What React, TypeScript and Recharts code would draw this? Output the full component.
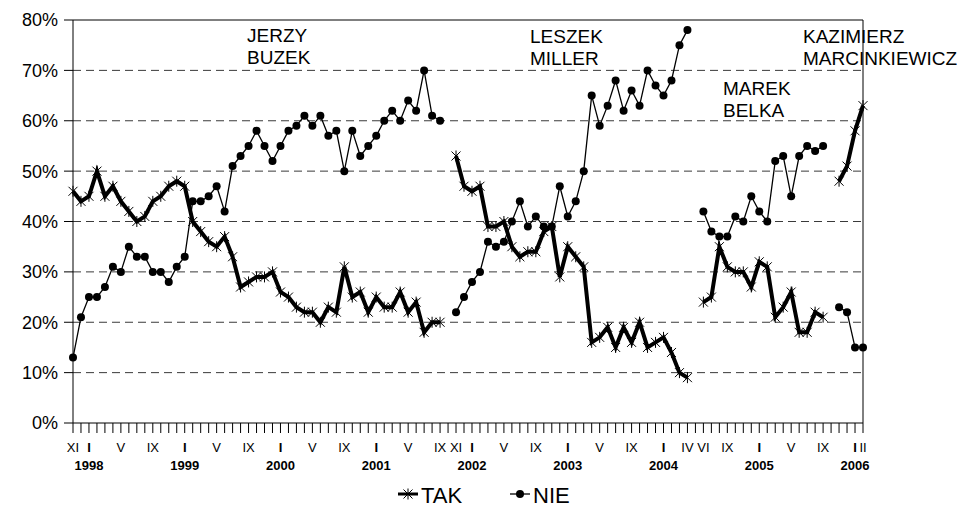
import { LineChart, Line, XAxis, YAxis, ReferenceLine, Legend } from 'recharts';

// miesiące od XI 1997 do II 2006
const START_YEAR = 1997;
const START_MONTH = 11;
const MONTH_COUNT = 100;

const months: string[] = [];
for (let i = 0; i < MONTH_COUNT; i++) {
  const m = START_MONTH - 1 + i;
  months.push(`${START_YEAR + Math.floor(m / 12)}-${(m % 12) + 1}`);
}

// (%), null = przerwa między rządami
const tak: (number | null)[] = [
  46, 44, 45, 50, 45, 47, 44, 42, 40, 41, 44, 45, 47, 48, 47, 40, 38, 36, 35, 37,
  33, 27, 28, 29, 29, 30, 26, 25, 23, 22, 22, 20, 23, 22, 31, 25, 26, 22, 25, 23,
  23, 26, 22, 24, 18, 20, 20,
  null,
  53, 47, 46, 47, 39, 39, 40, 35, 33, 34, 34, 38, 39, 29, 35, 33, 31, 16, 17, 19,
  15, 19, 16, 20, 15, 16, 17, 14, 10, 9,
  null,
  24, 25, 35, 31, 30, 30, 27, 32, 31, 21, 23, 26, 18, 18, 22, 21,
  null,
  48, 51, 58, 63,
];

const nie: (number | null)[] = [
  13, 21, 25, 25, 27, 31, 30, 35, 33, 33, 30, 30, 28, 31, 33, 44, 44, 45, 47, 42,
  51, 53, 55, 58, 55, 52, 55, 58, 59, 61, 59, 61, 57, 58, 50, 58, 53, 55, 57, 60,
  62, 60, 64, 62, 70, 61, 60,
  null,
  22, 25, 28, 30, 36, 35, 36, 40, 44, 39, 41, 39, 39, 47, 41, 44, 50, 65, 59, 63,
  68, 62, 66, 63, 70, 67, 65, 68, 75, 78,
  null,
  42, 38, 37, 37, 41, 40, 45, 42, 40, 52, 53, 45, 53, 55, 54, 55,
  null,
  23, 22, 15, 15,
];

const tickLabels: Record<string, string> = {
  '1997-11': 'XI', '1998-1': 'I', '1998-5': 'V', '1998-9': 'IX',
  '1999-1': 'I', '1999-5': 'V', '1999-9': 'IX',
  '2000-1': 'I', '2000-5': 'V', '2000-9': 'IX',
  '2001-1': 'I', '2001-5': 'V', '2001-9': 'IX', '2001-11': 'XI',
  '2002-1': 'I', '2002-5': 'V', '2002-9': 'IX',
  '2003-1': 'I', '2003-5': 'V', '2003-9': 'IX',
  '2004-1': 'I', '2004-4': 'IV', '2004-6': 'VI', '2004-9': 'IX',
  '2005-1': 'I', '2005-5': 'V', '2005-9': 'IX',
  '2006-1': 'I', '2006-2': 'II',
};

const yTicks = [0, 10, 20, 30, 40, 50, 60, 70, 80];
const gridValues = [10, 20, 30, 40, 50, 60, 70];

const premiers = [
  { lines: ['JERZY', 'BUZEK'], left: 247, top: 25 },
  { lines: ['LESZEK', 'MILLER'], left: 530, top: 26 },
  { lines: ['MAREK', 'BELKA'], left: 723, top: 78 },
  { lines: ['KAZIMIERZ', 'MARCINKIEWICZ'], left: 803, top: 26 },
];

const data = months.map((m, i) => ({ month: m, TAK: tak[i], NIE: nie[i] }));

const FONT = '"Liberation Sans", Arial, sans-serif';

function Star({ cx, cy, s = 4.5 }: { cx: number; cy: number; s?: number }) {
  return (
    <g stroke="#000" strokeWidth={1}>
      <line x1={cx - s} y1={cy - s} x2={cx + s} y2={cy + s} />
      <line x1={cx - s} y1={cy + s} x2={cx + s} y2={cy - s} />
      <line x1={cx} y1={cy - s - 1} x2={cx} y2={cy + s + 1} />
    </g>
  );
}

const takDot = (props: any) => {
  const { cx, cy, index, value } = props;
  if (value == null || cy == null) return <g key={`t${index}`} />;
  return <Star key={`t${index}`} cx={cx} cy={cy} />;
};

const nieDot = (props: any) => {
  const { cx, cy, index, value } = props;
  if (value == null || cy == null) return <g key={`n${index}`} />;
  return <circle key={`n${index}`} cx={cx} cy={cy} r={4} fill="#000" />;
};

function MonthTick({ x, y, payload }: any) {
  const label = tickLabels[payload.value];
  if (!label) return <g />;
  const jan = label === 'I';
  const year = String(payload.value).split('-')[0];
  return (
    <g>
      <text x={x} y={y + 17} textAnchor="middle" fontSize={13} fontWeight={jan ? 'bold' : 'normal'} fill="#000">
        {label}
      </text>
      {jan && (
        <text x={x} y={y + 35} textAnchor="middle" fontSize={13} fontWeight="bold" fill="#000">
          {year}
        </text>
      )}
    </g>
  );
}

function LegendContent() {
  return (
    <svg width={959} height={30} style={{ display: 'block' }}>
      <line x1={398} x2={418} y1={15} y2={15} stroke="#000" strokeWidth={3} />
      <Star cx={408} cy={15} />
      <text x={421} y={24} fontSize={22} fill="#000">TAK</text>
      <line x1={510} x2={530} y1={15} y2={15} stroke="#000" strokeWidth={1.3} />
      <circle cx={520} cy={15} r={4} fill="#000" />
      <text x={533} y={24} fontSize={22} fill="#000">NIE</text>
    </svg>
  );
}

export default function App() {
  return (
    <div style={{ position: 'absolute', left: 0, top: 0, width: 959, height: 509, background: '#fff', fontFamily: FONT }}>
      <LineChart width={959} height={509} data={data} margin={{ top: 20, right: 96, bottom: 0, left: 0 }}>
        {gridValues.map((v) => (
          <ReferenceLine key={v} y={v} stroke="#3a3a3a" strokeDasharray="8 5" />
        ))}
        <ReferenceLine y={80} stroke="#000" />
        <ReferenceLine x={months[months.length - 1]} stroke="#000" />
        <XAxis
          dataKey="month"
          interval={0}
          height={56}
          tickSize={10}
          tickMargin={2}
          axisLine={{ stroke: '#000' }}
          tickLine={{ stroke: '#000' }}
          tick={<MonthTick />}
        />
        <YAxis
          domain={[0, 80]}
          ticks={yTicks}
          width={73}
          tickSize={9}
          tickMargin={6}
          tickFormatter={(v) => `${v}%`}
          axisLine={{ stroke: '#000' }}
          tickLine={{ stroke: '#000' }}
          tick={{ fill: '#000', fontSize: 18 }}
        />
        <Line
          dataKey="NIE"
          type="linear"
          stroke="#000"
          strokeWidth={1.3}
          dot={nieDot}
          activeDot={false}
          connectNulls={false}
          isAnimationActive={false}
        />
        <Line
          dataKey="TAK"
          type="linear"
          stroke="#000"
          strokeWidth={4}
          dot={takDot}
          activeDot={false}
          connectNulls={false}
          isAnimationActive={false}
        />
        <Legend verticalAlign="bottom" height={30} content={<LegendContent />} wrapperStyle={{ left: 0, width: 959 }} />
      </LineChart>
      {premiers.map((p) => (
        <div
          key={p.lines[0]}
          style={{ position: 'absolute', left: p.left, top: p.top, fontSize: 19, lineHeight: '21.5px', color: '#000', whiteSpace: 'nowrap' }}
        >
          {p.lines.map((l) => (
            <div key={l}>{l}</div>
          ))}
        </div>
      ))}
    </div>
  );
}
